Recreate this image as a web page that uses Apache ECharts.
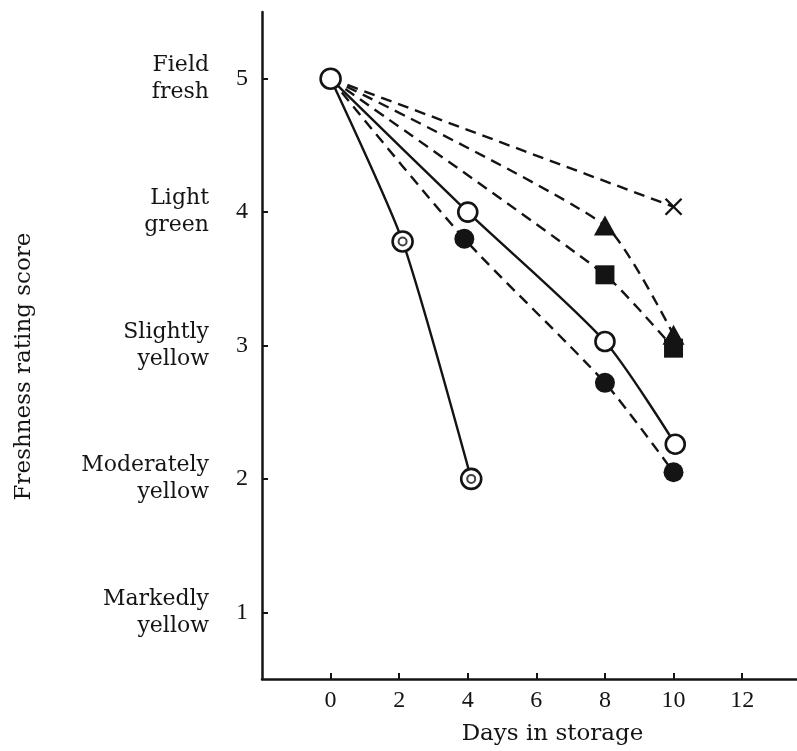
<!DOCTYPE html>
<html>
<head>
<meta charset="utf-8">
<script src="https://cdn.jsdelivr.net/npm/echarts@6/dist/echarts.min.js"></script>
<style>
  html, body { margin: 0; padding: 0; background: #fff; overflow: hidden; }
  #chart { width: 797px; height: 751px; }
</style>
</head>
<body>
<div id="chart"></div>
<script>
// values
const bullseyeDays = [0, 2.1, 4.1];
const bullseyeScores = [5, 3.78, 2.0];
const openDays = [0, 4, 8, 10.05];
const openScores = [5, 4.0, 3.03, 2.26];
const filledDays = [0, 3.9, 8, 10];
const filledScores = [5, 3.8, 2.72, 2.05];
const squareDays = [0, 8, 10];
const squareScores = [5, 3.53, 2.98];
const triangleDays = [0, 8, 10];
const triangleScores = [5, 3.9, 3.08];
const crossDays = [0, 10];
const crossScores = [5, 4.04];
const xTickValues = [0, 2, 4, 6, 8, 10, 12];
const yTickValues = [1, 2, 3, 4, 5];
const yTickNames = ['Markedly\nyellow', 'Moderately\nyellow', 'Slightly\nyellow', 'Light\ngreen', 'Field\nfresh'];

const TEXT_FONT = 'DejaVu Serif';
const NUM_FONT = 'Liberation Serif';
const INK = '#141414';

function pairs(xs, ys, hideFirst) {
    return xs.map((x, i) => {
        if (hideFirst && i === 0) return { value: [x, ys[i]], symbol: 'none' };
        return [x, ys[i]];
    });
}

function lineSeries(xs, ys, opts) {
    return {
        type: 'line',
        data: pairs(xs, ys, true),
        smooth: opts.smooth || 0,
        symbol: opts.symbol,
        symbolSize: opts.size,
        showSymbol: true,
        z: opts.z || 3,
        lineStyle: { color: INK, width: 2.4, type: opts.dashed ? [11, 7] : 'solid' },
        itemStyle: opts.itemStyle,
        emphasis: { disabled: true },
        silent: true
    };
}

const openCircleStyle = { color: '#fff', borderColor: INK, borderWidth: 2.6, opacity: 1 };
const filledStyle = { color: INK, borderColor: INK, borderWidth: 0, opacity: 1 };

const series = [
    lineSeries(crossDays, crossScores, {
        dashed: true, symbol: 'path://M0 0 L10 10 M10 0 L0 10', size: 16,
        itemStyle: { color: 'transparent', borderColor: INK, borderWidth: 2.4 }
    }),
    lineSeries(squareDays, squareScores, {
        dashed: true, smooth: 0.2, symbol: 'rect', size: 19, itemStyle: filledStyle
    }),
    lineSeries(triangleDays, triangleScores, {
        dashed: true, smooth: 0.2, symbol: 'triangle', size: [22, 20], itemStyle: filledStyle, z: 4
    }),
    lineSeries(filledDays, filledScores, {
        dashed: true, smooth: 0.25, symbol: 'circle', size: 20, itemStyle: filledStyle
    }),
    lineSeries(openDays, openScores, {
        smooth: 0.25, symbol: 'circle', size: 19, itemStyle: openCircleStyle
    }),
    lineSeries(bullseyeDays, bullseyeScores, {
        smooth: 0.2, symbol: 'circle', size: 20, itemStyle: openCircleStyle
    }),
    // inner ring of the bullseye markers
    {
        type: 'scatter',
        data: pairs(bullseyeDays, bullseyeScores, true),
        symbol: 'circle',
        symbolSize: 8,
        z: 6,
        itemStyle: { color: '#fff', borderColor: INK, borderWidth: 2 },
        silent: true
    },
    // shared starting point
    {
        type: 'scatter',
        data: [[openDays[0], openScores[0]]],
        symbol: 'circle',
        symbolSize: 20,
        z: 7,
        itemStyle: openCircleStyle,
        silent: true
    }
];

const numText = { color: INK, fontFamily: NUM_FONT, fontSize: 24 };

const chart = echarts.init(document.getElementById('chart'), null, { renderer: 'canvas' });
chart.setOption({
    animation: false,
    backgroundColor: '#fff',
    grid: { left: 262, right: 0, top: 12, bottom: 65 },
    xAxis: {
        type: 'value',
        min: -2,
        max: 13.6,
        interval: 2,
        name: 'Days in storage',
        nameLocation: 'middle',
        nameGap: 44,
        nameTextStyle: { color: INK, fontFamily: TEXT_FONT, fontSize: 23, padding: [0, 0, 0, 46] },
        axisLine: { onZero: false, lineStyle: { color: INK, width: 2.5 } },
        axisTick: { show: true, inside: true, length: 6, lineStyle: { color: INK, width: 2 }, customValues: xTickValues },
        axisLabel: { ...numText, margin: 10, customValues: xTickValues },
        splitLine: { show: false }
    },
    yAxis: [
        {
            type: 'value',
            min: 0.5,
            max: 5.5,
            name: 'Freshness rating score',
            nameLocation: 'middle',
            nameGap: 226,
            nameRotate: 90,
            nameTextStyle: { color: INK, fontFamily: TEXT_FONT, fontSize: 23, padding: [0, 42, 0, 0] },
            axisLine: { onZero: false, lineStyle: { color: INK, width: 2.5 } },
            axisTick: { show: true, inside: true, length: 6, lineStyle: { color: INK, width: 2 }, customValues: yTickValues },
            axisLabel: { ...numText, margin: 14, customValues: yTickValues },
            splitLine: { show: false }
        },
        {
            type: 'value',
            min: 0.5,
            max: 5.5,
            position: 'left',
            axisLine: { show: false },
            axisTick: { show: false },
            axisLabel: {
                color: INK,
                fontFamily: TEXT_FONT,
                fontSize: 22,
                lineHeight: 27,
                margin: 53,
                customValues: yTickValues,
                formatter: v => yTickNames[yTickValues.indexOf(Math.round(v))] || ''
            },
            splitLine: { show: false }
        }
    ],
    series
});
</script>
</body>
</html>
